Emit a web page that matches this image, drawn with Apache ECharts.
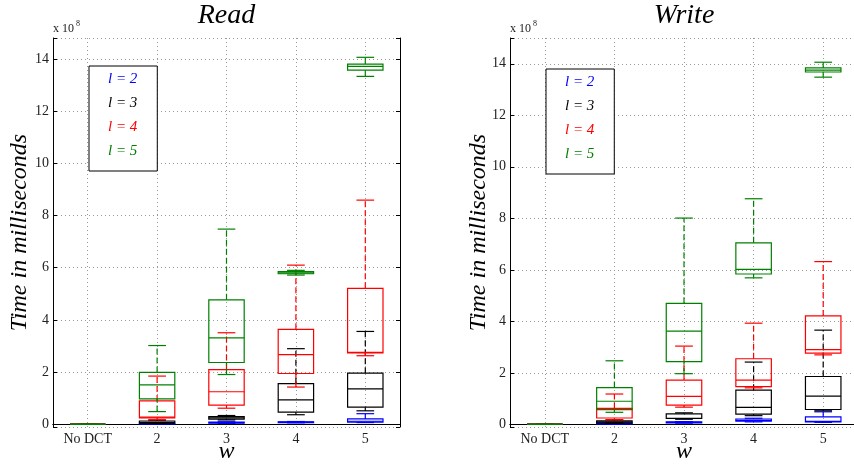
<!DOCTYPE html>
<html>
<head>
<meta charset="utf-8">
<script src="https://cdn.jsdelivr.net/npm/echarts@6/dist/echarts.min.js"></script>
<style>
  html, body { margin: 0; padding: 0; background: #fff; }
  #chart { width: 854px; height: 467px; }
</style>
</head>
<body>
<div id="chart"></div>
<script>
// categories on the w axis
const categories = ['No DCT', '2', '3', '4', '5'];
const levelNames = ['l = 2', 'l = 3', 'l = 4', 'l = 5'];
const levelColors = ['#0000ff', '#000000', '#ff0000', '#008000'];
const yTicks = [0, 2, 4, 6, 8, 10, 12, 14];

// box stats per w, in units of 1e8 ms: [lower whisker, q1, median, q3, upper whisker]
const readL2 = [[0, 0, 0, 0, 0], [0.01, 0.02, 0.03, 0.05, 0.06], [0.04, 0.05, 0.07, 0.09, 0.10], [0.06, 0.07, 0.09, 0.10, 0.11], [0.07, 0.09, 0.12, 0.21, 0.41]];
const readL3 = [[0, 0, 0, 0, 0], [0.03, 0.05, 0.08, 0.13, 0.16], [0.17, 0.20, 0.25, 0.30, 0.34], [0.37, 0.47, 0.94, 1.56, 2.90], [0.52, 0.66, 1.36, 1.96, 3.56]];
const readL4 = [[0, 0, 0, 0, 0], [0.18, 0.25, 0.28, 0.90, 1.85], [0.62, 0.74, 1.25, 2.10, 3.51], [1.43, 1.95, 2.67, 3.64, 6.10], [2.63, 2.74, 2.76, 5.21, 8.59]];
const readL5 = [[0, 0, 0, 0, 0], [0.49, 0.98, 1.51, 1.99, 3.02], [1.91, 2.37, 3.31, 4.77, 7.48], [5.72, 5.77, 5.80, 5.85, 5.90], [13.33, 13.57, 13.71, 13.80, 14.06]];

const writeL2 = [[0, 0, 0, 0, 0], [0.01, 0.02, 0.03, 0.05, 0.06], [0.05, 0.06, 0.08, 0.10, 0.11], [0.10, 0.13, 0.16, 0.21, 0.24], [0.08, 0.10, 0.12, 0.29, 0.49]];
const writeL3 = [[0, 0, 0, 0, 0], [0.04, 0.06, 0.10, 0.14, 0.18], [0.20, 0.23, 0.24, 0.41, 0.45], [0.34, 0.40, 0.66, 1.33, 2.42], [0.53, 0.58, 1.10, 1.86, 3.66]];
const writeL4 = [[0, 0, 0, 0, 0], [0.18, 0.25, 0.58, 0.62, 1.18], [0.67, 0.75, 1.09, 1.72, 3.04], [1.42, 1.47, 1.72, 2.55, 3.93], [2.70, 2.77, 2.90, 4.21, 6.32]];
const writeL5 = [[0, 0, 0, 0, 0], [0.47, 0.57, 0.90, 1.43, 2.47], [1.97, 2.44, 3.62, 4.70, 8.01], [5.69, 5.84, 6.02, 7.05, 8.76], [13.48, 13.68, 13.75, 13.84, 14.06]];

const panels = [
  { title: 'Read', left: 53, width: 347, max: 14.8, sets: [readL2, readL3, readL4, readL5] },
  { title: 'Write', left: 510, width: 348, max: 15, sets: [writeL2, writeL3, writeL4, writeL5] }
];

const serif = 'Liberation Serif';

// matlab style box: dashed whiskers, caps, open box, median line
function renderBox(params, api) {
  const x = api.value(0);
  const pts = [1, 2, 3, 4, 5].map(k => api.coord([x, api.value(k)]));
  const cx = pts[0][0];
  const half = api.size([1, 0])[0] * 0.255;
  const cap = half / 2;
  const color = api.visual('color');
  const solid = { stroke: color, lineWidth: 1.2, fill: null };
  const dashed = { stroke: color, lineWidth: 1.2, lineDash: [6, 3], fill: null };
  return {
    type: 'group',
    children: [
      { type: 'line', shape: { x1: cx, y1: pts[3][1], x2: cx, y2: pts[4][1] }, style: dashed },
      { type: 'line', shape: { x1: cx, y1: pts[0][1], x2: cx, y2: pts[1][1] }, style: dashed },
      { type: 'line', shape: { x1: cx - cap, y1: pts[4][1], x2: cx + cap, y2: pts[4][1] }, style: solid },
      { type: 'line', shape: { x1: cx - cap, y1: pts[0][1], x2: cx + cap, y2: pts[0][1] }, style: solid },
      { type: 'rect', shape: { x: cx - half, y: pts[3][1], width: half * 2, height: pts[1][1] - pts[3][1] }, style: solid },
      { type: 'line', shape: { x1: cx - half, y1: pts[2][1], x2: cx + half, y2: pts[2][1] }, style: solid }
    ]
  };
}

const grid = [], xAxis = [], yAxis = [], series = [], legend = [], graphic = [];

panels.forEach((p, i) => {
  grid.push({ left: p.left, top: 38, width: p.width, height: 389, outerBoundsMode: 'none' });

  xAxis.push({
    type: 'category', gridIndex: i, data: categories, position: 'bottom',
    axisLine: { lineStyle: { color: '#000', width: 1 } },
    axisTick: { inside: true, alignWithLabel: true, length: 4, lineStyle: { color: '#000' } },
    axisLabel: { margin: 5, fontFamily: serif, fontSize: 14, color: '#222' },
    splitLine: { show: true, alignWithLabel: true, lineStyle: { type: [1, 3], color: '#999' } },
    name: 'w', nameLocation: 'middle', nameGap: 13, nameMoveOverlap: false,
    nameTextStyle: { fontFamily: serif, fontStyle: 'italic', fontSize: 24, color: '#000' }
  });
  xAxis.push({
    type: 'category', gridIndex: i, data: categories, position: 'top',
    axisLine: { lineStyle: { color: '#000', width: 1 } },
    axisTick: { inside: true, alignWithLabel: true, length: 4, lineStyle: { color: '#000' } },
    axisLabel: { show: false }, splitLine: { show: false }
  });

  yAxis.push({
    type: 'value', gridIndex: i, min: -0.1, max: p.max, splitNumber: 7, position: 'left',
    axisLine: { show: true, lineStyle: { color: '#000', width: 1 } },
    axisTick: { show: true, inside: true, length: 4, lineStyle: { color: '#000' } },
    axisLabel: {
      margin: 4, fontFamily: serif, fontSize: 14, color: '#222',
      formatter: v => (yTicks.includes(v) ? String(v) : '')
    },
    splitLine: { show: true, lineStyle: { type: [1, 3], color: '#999' } },
    name: 'Time in milliseconds', nameLocation: 'middle', nameRotate: 90, nameGap: i === 0 ? 21 : 19,
    nameMoveOverlap: false,
    nameTextStyle: { fontFamily: serif, fontStyle: 'italic', fontSize: 24, color: '#000' }
  });
  yAxis.push({
    type: 'value', gridIndex: i, min: -0.1, max: p.max, splitNumber: 7, position: 'right',
    axisLine: { show: true, lineStyle: { color: '#000', width: 1 } },
    axisTick: { show: true, inside: true, length: 4, lineStyle: { color: '#000' } },
    axisLabel: { show: false }, splitLine: { show: false }
  });

  p.sets.forEach((set, k) => {
    series.push({
      type: 'custom', name: levelNames[k],
      xAxisIndex: i * 2, yAxisIndex: i * 2,
      itemStyle: { color: levelColors[k] },
      encode: { x: 0, y: [1, 2, 3, 4, 5] },
      data: set.map((d, c) => [c].concat(d)),
      renderItem: renderBox,
      z: 3 + k
    });
  });

  legend.push({
    orient: 'vertical', left: p.left + 36, top: i === 0 ? 66 : 69,
    icon: 'rect', itemWidth: 0, itemHeight: 14, itemGap: 9,
    padding: [6, 20, 12, 14], borderColor: '#000', borderWidth: 1, backgroundColor: '#fff',
    selectedMode: false,
    textStyle: { fontFamily: serif, fontStyle: 'italic', fontSize: 15 },
    data: levelNames.map((n, k) => ({ name: n, textStyle: { color: levelColors[k] } }))
  });

  graphic.push(
    { type: 'text', x: p.left + p.width / 2, y: 16, style: { text: p.title, fontFamily: serif, fontStyle: 'italic', fontSize: 28, fill: '#000', align: 'center', verticalAlign: 'middle' } },
    { type: 'text', x: p.left, y: 29, style: { text: 'x 10', fontFamily: serif, fontSize: 12, fill: '#222', align: 'left', verticalAlign: 'middle' } },
    { type: 'text', x: p.left + 23, y: 24, style: { text: '8', fontFamily: serif, fontSize: 8, fill: '#222', align: 'left', verticalAlign: 'middle' } }
  );
});

const chart = echarts.init(document.getElementById('chart'));
chart.setOption({
  animation: false,
  backgroundColor: '#fff',
  grid, xAxis, yAxis, series, legend, graphic
});
</script>
</body>
</html>
